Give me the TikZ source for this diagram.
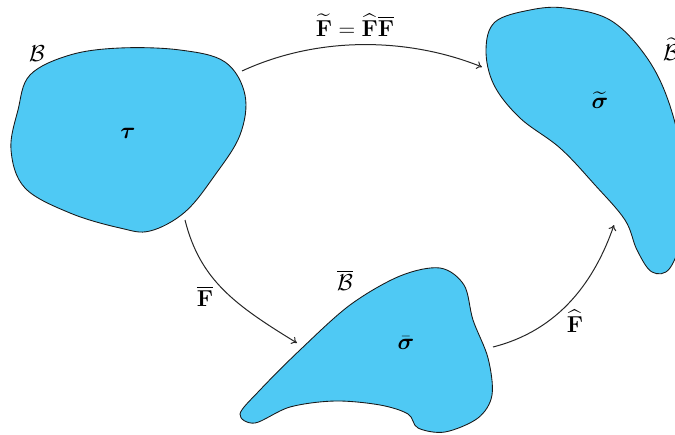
\documentclass[tikz,border=0pt]{standalone}
\usepackage{amsmath,bm}
\usetikzlibrary{arrows.meta}
\definecolor{skyb}{HTML}{4FC9F4}
\begin{document}
\begin{tikzpicture}[x=0.75pt,y=-0.75pt,
  blob/.style={fill=skyb,draw=black!90,line width=0.65pt},
  conn/.style={-{To[length=4pt,width=6pt]},line width=0.75pt,black!85},
  lbl/.style={font=\LARGE,inner sep=1pt}]
\clip (0,0) rectangle (675,435);
% blob tau
\draw[blob] plot[smooth cycle,tension=0.6] coordinates {
 (30,75) (70,55) (120,48) (180,50) (225,62) (245,95) (240,135) (215,175) (185,212) (150,231) (120,228) (70,213) (25,188) (11,150) (18,110)};
% blob sigma tilde
\draw[blob] plot[smooth cycle,tension=0.6] coordinates {
 (495,22) (530,10) (565,8) (610,20) (645,55) (668,100) (682,160) (682,230) (670,268) (652,272) (637,250) (625,220) (595,185) (560,148) (520,118) (494,85) (486,50)};
% blob sigma bar
\draw[blob] plot[smooth cycle,tension=0.55] coordinates {
 (260,390) (300,350) (350,305) (400,276) (440,268) (464,285) (473,320) (488,358) (492,395) (478,418) (445,432) (418,428) (408,414) (380,405) (335,401) (290,407) (255,423) (240,414)};
\node[lbl] (B) at (37,54) {$\mathcal{B}$};
\node[lbl] (Bt) at (671,49) {$\widetilde{\mathcal{B}}$};
\node[lbl] (Bb) at (345,280) {$\overline{\mathcal{B}}$};
\node[lbl] (tau) at (128,133) {$\bm{\tau}$};
\node[lbl] (sigt) at (600,100) {$\widetilde{\bm{\sigma}}$};
\node[lbl] (sigb) at (406,343) {$\bar{\bm{\sigma}}$};
\coordinate (a1) at (242,71);
\coordinate (a2) at (482,67);
\coordinate (b1) at (185,220);
\coordinate (b2) at (297,343);
\coordinate (c1) at (493,347);
\coordinate (c2) at (614,225);
\draw[conn] (a1) .. controls (320,35) and (410,38) .. (a2);
\draw[conn] (b1) .. controls (200,280) and (235,305) .. (b2);
\draw[conn] (c1) .. controls (560,330) and (595,280) .. (c2);
\node[lbl] (ft) at (355,25) {$\widetilde{\mathbf{F}}=\widehat{\mathbf{F}}\overline{\mathbf{F}}$};
\node[lbl] (fb) at (205,296) {$\overline{\mathbf{F}}$};
\node[lbl] (fh) at (575,321) {$\widehat{\mathbf{F}}$};
\end{tikzpicture}
\end{document}
